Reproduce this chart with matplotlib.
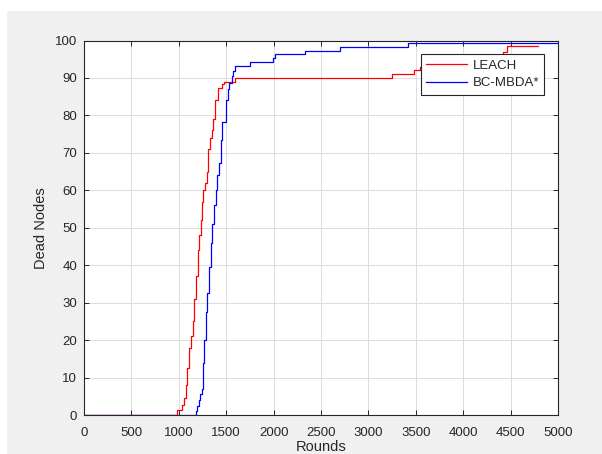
import numpy as np
import matplotlib
matplotlib.use('Agg')
import matplotlib.pyplot as plt
from matplotlib.patches import Rectangle

# LEACH: rounds where the count of dead nodes changes, and the new count
leach_rounds = [0, 986, 1030, 1055, 1072, 1090, 1111, 1125, 1146, 1164, 1181, 1199, 1213,
                1231, 1248, 1259, 1276, 1294, 1311, 1329, 1346, 1364, 1382, 1417, 1452,
                1475, 1593, 3245, 3485, 3544, 4424, 4459, 4790]
leach_dead = [0, 1.3, 2.7, 4.5, 8, 12.5, 18, 21, 25, 31, 37, 44, 48,
              52, 57, 60, 62, 65, 71, 74, 76, 79, 84, 87.3, 88.3,
              89, 90, 91, 92, 93, 97, 98.6, 98.6]

# BC-MBDA*
bc_rounds = [0, 1180, 1195, 1210, 1228, 1245, 1254, 1269, 1287, 1301, 1319, 1336, 1354,
             1371, 1389, 1406, 1424, 1442, 1456, 1498, 1516, 1533, 1558, 1575, 1593,
             1751, 1997, 2015, 2331, 2700, 3421, 5000]
bc_dead = [0, 1, 2.5, 4, 5.5, 7, 14, 20, 27.5, 32.5, 39.5, 46, 51,
           56, 60, 64, 67.3, 73.5, 78.3, 84, 87, 88.7, 90.5, 91.8, 93.3,
           94.3, 95.4, 96.4, 97.2, 98.3, 99.2, 99.2]

W, H = 602, 454
fig = plt.figure(figsize=(W / 100, H / 100), dpi=100, facecolor='white')
# grey figure area (the screenshot has a thin white border top/left)
fig.patches.append(Rectangle((7 / W, 0), 1 - 7 / W, (H - 10.5) / H,
                             transform=fig.transFigure, facecolor='#f0f0f0',
                             edgecolor='none', zorder=-10))

left, right, top, bottom = 84, 558, 40.5, 415
ax = fig.add_axes([left / W, (H - bottom) / H, (right - left) / W, (bottom - top) / H])
ax.set_facecolor('white')

ax.plot(leach_rounds, leach_dead, color='#ff0000', lw=0.9, drawstyle='steps-post', label='LEACH')
ax.plot(bc_rounds, bc_dead, color='#0000ff', lw=0.9, drawstyle='steps-post', label='BC-MBDA*')

ax.set_xlim(0, 5000)
ax.set_ylim(0, 100)
ax.set_xticks(np.arange(0, 5001, 500))
ax.set_yticks(np.arange(0, 101, 10))

font = 'Liberation Sans'
tick_col = '#262626'
ax.grid(True, color='#dcdcdc', lw=0.7)
ax.set_axisbelow(True)
for s in ax.spines.values():
    s.set_color('#262626')
    s.set_linewidth(0.8)
ax.tick_params(direction='in', length=3.5, width=0.7, colors=tick_col,
               top=True, right=True, labelsize=9.5)
ax.tick_params(axis='y', pad=5)
ax.tick_params(axis='x', pad=9)
for lab in ax.get_xticklabels() + ax.get_yticklabels():
    lab.set_fontfamily(font)
    lab.set_color(tick_col)

ax.set_xlabel('Rounds', fontsize=10.5, family=font, color=tick_col, labelpad=0.5)
ax.set_ylabel('Dead Nodes', fontsize=10.5, family=font, color=tick_col, labelpad=5)

leg = ax.legend(loc='upper right', bbox_to_anchor=(0.971, 0.963), borderaxespad=0,
                fancybox=False, framealpha=1, edgecolor='#262626',
                prop={'family': font, 'size': 9.5}, handlelength=3.1,
                handletextpad=0.4, labelspacing=0.4, borderpad=0.4)
leg.get_frame().set_linewidth(0.8)
for t in leg.get_texts():
    t.set_color(tick_col)

fig.savefig('out.png', dpi=100, facecolor=fig.get_facecolor())
